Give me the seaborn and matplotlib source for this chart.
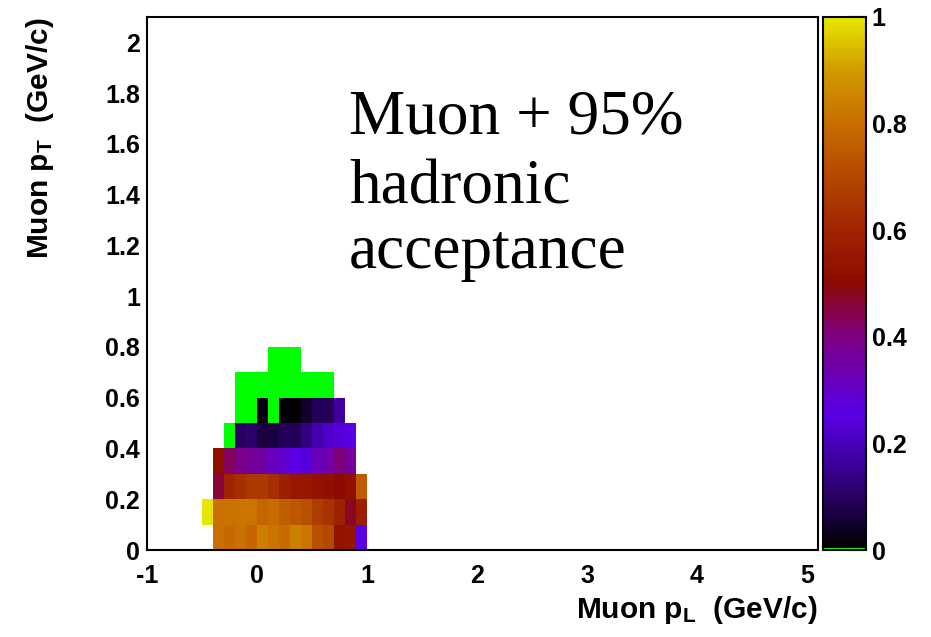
import numpy as np
import pandas as pd
import matplotlib
matplotlib.use("Agg")
import matplotlib.pyplot as plt
from matplotlib.colors import LinearSegmentedColormap, ListedColormap
from matplotlib.ticker import MultipleLocator, FuncFormatter
import seaborn as sns

# Bin centres (GeV/c): 0.1 GeV/c wide bins
pl_centers = [-0.45, -0.35, -0.25, -0.15, -0.05, 0.05, 0.15, 0.25,
              0.35, 0.45, 0.55, 0.65, 0.75, 0.85, 0.95]
pt_centers = [0.05, 0.15, 0.25, 0.35, 0.45, 0.55, 0.65, 0.75]

# Acceptance per pT row, one entry per pL bin (None = no events)
acc_pt_0 = [None, 0.81, 0.79, 0.81, 0.78, 0.84, 0.82, 0.80, 0.84, 0.82, 0.72, 0.70, 0.53, 0.54, 0.25]
acc_pt_1 = [1.00, 0.81, 0.815, 0.82, 0.82, 0.78, 0.80, 0.76, 0.74, 0.72, 0.67, 0.64, 0.59, 0.48, 0.58]
acc_pt_2 = [None, 0.46, 0.60, 0.63, 0.66, 0.66, 0.63, 0.58, 0.55, 0.55, 0.53, 0.52, 0.50, 0.52, 0.75]
acc_pt_3 = [None, 0.52, 0.43, 0.39, 0.37, 0.35, 0.31, 0.29, 0.26, 0.24, 0.32, 0.34, 0.41, 0.36, None]
acc_pt_4 = [None, None, 0.0, 0.10, 0.11, 0.07, 0.07, 0.09, 0.09, 0.14, 0.19, 0.22, 0.24, 0.26, None]
acc_pt_5 = [None, None, None, 0.0, 0.0, 0.02, 0.0, 0.01, 0.01, 0.05, 0.09, 0.09, 0.17, None, None]
acc_pt_6 = [None, None, None, 0.0, 0.0, 0.0, 0.0, 0.0, 0.0, 0.0, 0.0, 0.0, None, None, None]
acc_pt_7 = [None, None, None, None, None, None, 0.0, 0.0, 0.0, None, None, None, None, None, None]

acc_rows = [acc_pt_0, acc_pt_1, acc_pt_2, acc_pt_3, acc_pt_4, acc_pt_5, acc_pt_6, acc_pt_7]

records = []
for pt, row in zip(pt_centers, acc_rows):
    for pl, a in zip(pl_centers, row):
        if a is not None:
            records.append({"pl": pl, "pt": pt, "acc": a})
df = pd.DataFrame(records)
filled = df[df["acc"] > 0]
empty_acc = df[df["acc"] == 0]

# Palette: green for zero acceptance, then black -> violet -> red -> yellow
anchors = [
    (0.00, "#000000"), (0.10, "#2a0068"), (0.25, "#5a00e8"), (0.40, "#800080"),
    (0.50, "#8c0a00"), (0.60, "#a02400"), (0.70, "#b44800"), (0.80, "#c86c00"),
    (0.90, "#d09a00"), (1.00, "#e6e600"),
]
body = LinearSegmentedColormap.from_list("body", anchors)
cols = body(np.linspace(0, 1, 255))
palette = ListedColormap(np.vstack([[0.0, 1.0, 0.0, 1.0], cols]))

sns.set_style("white")
plt.rcParams["font.family"] = ["Liberation Sans", "DejaVu Sans"]
plt.rcParams["font.weight"] = "bold"
plt.rcParams["text.color"] = "black"
plt.rcParams["axes.labelcolor"] = "black"
plt.rcParams["xtick.color"] = "black"
plt.rcParams["ytick.color"] = "black"
plt.rcParams["mathtext.fontset"] = "custom"
plt.rcParams["mathtext.rm"] = "Liberation Sans:bold"
plt.rcParams["mathtext.it"] = "Liberation Sans:bold"
plt.rcParams["mathtext.bf"] = "Liberation Sans:bold"

W, H = 931, 637
fig = plt.figure(figsize=(W / 100, H / 100), dpi=100)
ax = fig.add_axes([147 / W, 1 - 550 / H, 671 / W, 533 / H])
cax = fig.add_axes([823 / W, 1 - 550 / H, 43 / W, 533 / H])

binrange = ((-0.5, 1.0), (0.0, 0.8))
sns.histplot(data=filled, x="pl", y="pt", weights="acc", binwidth=0.1,
             binrange=binrange, cmap=palette, vmin=0, vmax=1,
             cbar=True, cbar_ax=cax, ax=ax)
sns.histplot(data=empty_acc, x="pl", y="pt", binwidth=0.1, binrange=binrange,
             cmap=ListedColormap(["#00ff00"]), ax=ax)

ax.set_xlim(-1, 5.1)
ax.set_ylim(0, 2.1)
ax.xaxis.set_major_locator(MultipleLocator(1))
ax.xaxis.set_minor_locator(MultipleLocator(0.2))
ax.yaxis.set_major_locator(MultipleLocator(0.2))
ax.yaxis.set_minor_locator(MultipleLocator(0.05))
fmt = FuncFormatter(lambda v, p: "%g" % round(v, 2) if abs(v) > 1e-9 else "0")
ax.xaxis.set_major_formatter(fmt)
ax.yaxis.set_major_formatter(fmt)

for s in ax.spines.values():
    s.set_linewidth(1.5)
    s.set_color("black")
ax.tick_params(axis="x", which="major", direction="in", length=11, width=1.5,
               labelsize=18, pad=10, top=False)
ax.tick_params(axis="x", which="minor", direction="in", length=5, width=1.5, top=False)
ax.tick_params(axis="y", which="major", direction="in", length=14, width=1.5,
               labelsize=18, pad=5, right=False)
ax.tick_params(axis="y", which="minor", direction="in", length=7, width=1.5, right=False)
for lbl in ax.get_xticklabels() + ax.get_yticklabels():
    lbl.set_fontweight("bold")

ax.set_xlabel(r"Muon p$_{\mathrm{L}}$  (GeV/c)", fontsize=21.5, fontweight="bold", loc="right")
ax.xaxis.set_label_coords(1.0, -0.083)
ax.set_ylabel(r"Muon p$_{\mathrm{T}}$  (GeV/c)", fontsize=21.5, fontweight="bold", loc="top")
ax.yaxis.set_label_coords(-0.135, 1.0)

cax.set_ylim(0, 1)
cax.yaxis.set_major_locator(MultipleLocator(0.2))
cax.yaxis.set_minor_locator(plt.NullLocator())
cax.yaxis.set_major_formatter(fmt)
cax.tick_params(axis="y", which="both", direction="in", length=13, width=1.5,
                labelsize=18, pad=4, right=True, left=False, labelright=True,
                labelleft=False, colors="black")
for s in cax.spines.values():
    s.set_linewidth(1.5)
    s.set_color("black")
for lbl in cax.get_yticklabels():
    lbl.set_fontweight("bold")

serif = ["Liberation Serif", "DejaVu Serif"]
for txt, yb in [("Muon + 95%", 133), ("hadronic", 203), ("acceptance", 268)]:
    fig.text(349 / W, 1 - yb / H, txt, family=serif, fontweight="normal",
             fontsize=45.5, color="black", ha="left", va="baseline")

fig.savefig("out.png", dpi=100)
